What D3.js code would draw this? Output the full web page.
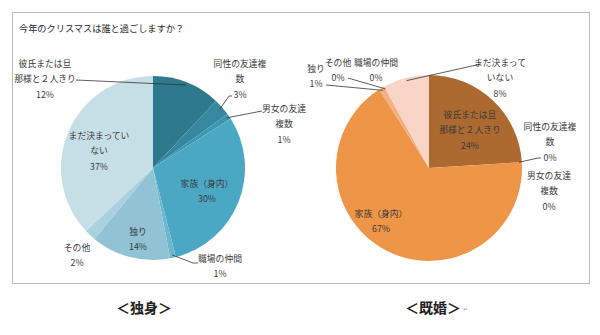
<!DOCTYPE html>
<html><head><meta charset="utf-8">
<script src="https://cdn.jsdelivr.net/npm/d3@7"></script>
<style>
body{margin:0;background:#fff;}
text{font-family:"Noto Sans CJK JP","Noto Sans",sans-serif;}
</style></head>
<body><svg id="c" width="600" height="335"></svg>
<script>
const title = "今年のクリスマスは誰と過ごしますか？";
const categories = ["彼氏または旦那様と２人きり","同性の友達複数","男女の友達複数","家族（身内）","職場の仲間","独り","その他","まだ決まっていない"];
const singleValues = [12, 3, 1, 30, 1, 14, 2, 37];
const marriedValues = [24, 0, 0, 67, 0, 1, 0, 8];
const groupNames = ["＜独身＞", "＜既婚＞"];

const singleColors = ["#2f798d","#35889f","#3c96b1","#4ba8c5","#6ab7ce","#91c3d5","#aad1de","#c6dfe7"];
const marriedColors = ["#ad6a30","#c27634","#d9833a","#ef9547","#f1a165","#f4b083","#f7c3a6","#f9d5c8"];

// layout: label centres (first line), line splits, leader start points
const layouts = [
  { cx:153, cy:168, r:92, colors:singleColors, values:singleValues,
    labels:[
      {x:45, y:63, split:[6], lead:[[76,80]]},
      {x:240, y:63, split:[6], lead:[[232,96],[229,96]]},
      {x:284, y:108, split:[5], lead:[[262,111]]},
      {x:207, y:183, split:[]},
      {x:220, y:258, split:[], lead:[[198,263],[193,263]]},
      {x:138, y:231, split:[]},
      {x:77, y:247, split:[]},
      {x:99, y:135, split:[7]}
    ]},
  { cx:429, cy:168, r:93, colors:marriedColors, values:marriedValues,
    labels:[
      {x:470, y:114, split:[6]},
      {x:550, y:126, split:[6], lead:[[541,158],[538,158]]},
      {x:549, y:175, split:[5]},
      {x:381, y:213, split:[]},
      {x:376, y:62, split:[]},
      {x:316, y:68, split:[], lead:[[326,85]]},
      {x:338, y:62, split:[], lead:[[348,78]]},
      {x:500, y:62, split:[6], lead:[[481,64]]}
    ]}
];
const bottomLabelPos = [{x:144, y:307},{x:433, y:307}];

const svg = d3.select("#c");
svg.append("rect").attr("x",12.5).attr("y",12.5).attr("width",577).attr("height",271)
  .attr("fill","#fff").attr("stroke","#bcbcbc").attr("stroke-width",1);
svg.append("text").attr("x",19).attr("y",28).attr("dominant-baseline","central")
  .attr("font-size",9.2).attr("fill","#2a2a2a").text(title);

const pie = d3.pie().sort(null).value(d=>d);
const lh = 15.5;

layouts.forEach((L, gi) => {
  const arcs = pie(L.values);
  const arc = d3.arc().innerRadius(0).outerRadius(L.r);
  const g = svg.append("g").attr("transform",`translate(${L.cx},${L.cy})`);
  g.selectAll("path").data(arcs).enter().append("path")
    .attr("d", arc).attr("fill",(d,i)=>L.colors[i]);

  const lg = svg.append("g");
  arcs.forEach((a, i) => {
    const lab = L.labels[i];
    const name = categories[i];
    let parts = [];
    let prev = 0;
    lab.split.forEach(s => { parts.push(name.slice(prev, s)); prev = s; });
    parts.push(name.slice(prev));
    parts.push(d3.format(".0f")(L.values[i]) + "%");
    parts.forEach((p, k) => {
      lg.append("text").attr("x", lab.x).attr("y", lab.y + k*lh)
        .attr("text-anchor","middle").attr("dominant-baseline","central")
        .attr("font-size",8.8).attr("fill","#3a3a3a").text(p);
    });
    if (lab.lead) {
      const mid = (a.startAngle + a.endAngle)/2;
      const rr = L.r*0.97;
      const end = [L.cx + rr*Math.sin(mid), L.cy - rr*Math.cos(mid)];
      const pts = lab.lead.concat([end]);
      lg.append("path").attr("d", d3.line()(pts))
        .attr("fill","none").attr("stroke","#333").attr("stroke-width",0.8);
    }
  });

  svg.append("text").attr("x", bottomLabelPos[gi].x).attr("y", bottomLabelPos[gi].y)
    .attr("text-anchor","middle").attr("dominant-baseline","central")
    .attr("font-size",14).attr("font-weight","bold").attr("fill","#222").text(groupNames[gi]);
});
svg.append("text").attr("x",463).attr("y",311).attr("font-size",6).attr("fill","#999").text("↵");
</script></body></html>
